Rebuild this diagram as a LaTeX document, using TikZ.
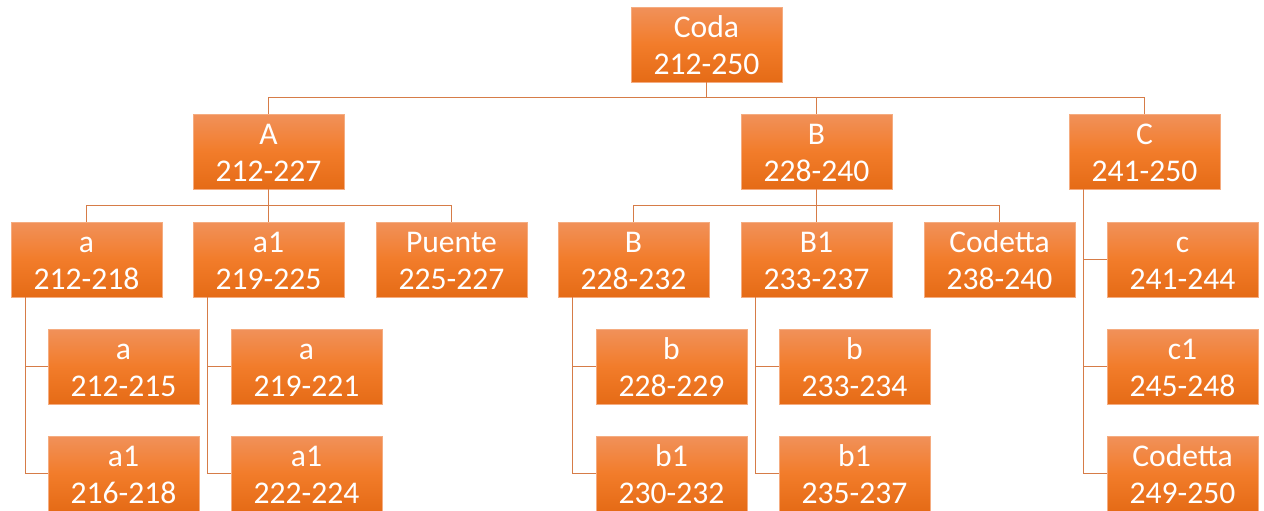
\documentclass[tikz,border=0pt]{standalone}
\usepackage{fontspec}
\setmainfont{Carlito}
\definecolor{boxtop}{RGB}{241,145,90}
\definecolor{boxmid}{RGB}{242,124,42}
\definecolor{boxbot}{RGB}{229,107,22}
\definecolor{linkc}{RGB}{214,124,72}
\definecolor{boxedge}{RGB}{245,172,128}
\newcommand\Lt{\rule{0pt}{13pt}}
\newcommand\Lb{\rule[-1.8pt]{0pt}{1.8pt}}
\begin{document}
\begin{tikzpicture}[x=0.5pt,y=-0.5pt,
 box/.style={rectangle, minimum width=75.5pt, minimum height=37.5pt, inner sep=0pt,
   top color=boxtop, bottom color=boxbot, middle color=boxmid,
   draw=boxedge, line width=0.3pt, text=white, align=center,
   font=\fontsize{15.8}{18.4}\selectfont},
 link/.style={draw=linkc, line width=0.75pt}]
\useasboundingbox (0,0) rectangle (1264,510);
% level 0
\node[box] (coda) at (706.5,44.5) {\Lt Coda\\212-250\Lb};
% level 1
\node[box] (A) at (268.5,151.5) {\Lt A\\212-227\Lb};
\node[box] (B) at (816.5,151.5) {\Lt B\\228-240\Lb};
\node[box] (C) at (1144.5,151.5) {\Lt C\\241-250\Lb};
% level 2
\node[box] (a) at (86.5,259.5) {\Lt a\\212-218\Lb};
\node[box] (aone) at (268.5,259.5) {\Lt a1\\219-225\Lb};
\node[box] (puente) at (451.5,259.5) {\Lt Puente\\225-227\Lb};
\node[box] (Bb) at (633.5,259.5) {\Lt B\\228-232\Lb};
\node[box] (Bone) at (816.5,259.5) {\Lt B1\\233-237\Lb};
\node[box] (codetta) at (999.5,259.5) {\Lt Codetta\\238-240\Lb};
\node[box] (c) at (1182.5,259.5) {\Lt c\\241-244\Lb};
% level 3
\node[box] (aa) at (123.5,366.5) {\Lt a\\212-215\Lb};
\node[box] (aaone) at (123.5,473.5) {\Lt a1\\216-218\Lb};
\node[box] (aonea) at (306.5,366.5) {\Lt a\\219-221\Lb};
\node[box] (aoneb) at (306.5,473.5) {\Lt a1\\222-224\Lb};
\node[box] (bb) at (671.5,366.5) {\Lt b\\228-229\Lb};
\node[box] (bbone) at (671.5,473.5) {\Lt b1\\230-232\Lb};
\node[box] (bonea) at (854.5,366.5) {\Lt b\\233-234\Lb};
\node[box] (boneb) at (854.5,473.5) {\Lt b1\\235-237\Lb};
\node[box] (cone) at (1182.5,366.5) {\Lt c1\\245-248\Lb};
\node[box] (ccodetta) at (1182.5,473.5) {\Lt Codetta\\249-250\Lb};
% connectors level 0 -> 1
\draw[link] (A.north) -- ++(0,-16) -| (coda.south);
\draw[link] (B.north) -- ++(0,-16) -| (coda.south);
\draw[link] (C.north) -- ++(0,-16) -| (coda.south);
% level 1 -> 2
\draw[link] (a.north) -- ++(0,-16) -| (A.south);
\draw[link] (aone.north) -- ++(0,-16) -| (A.south);
\draw[link] (puente.north) -- ++(0,-16) -| (A.south);
\draw[link] (Bb.north) -- ++(0,-16) -| (B.south);
\draw[link] (Bone.north) -- ++(0,-16) -| (B.south);
\draw[link] (codetta.north) -- ++(0,-16) -| (B.south);
% C children (vertical list)
\draw[link] ([xshift=7.5pt]C.south west) |- (c.west);
\draw[link] ([xshift=7.5pt]C.south west) |- (cone.west);
\draw[link] ([xshift=7.5pt]C.south west) |- (ccodetta.west);
% level 2 -> 3
\draw[link] ([xshift=7.5pt]a.south west) |- (aa.west);
\draw[link] ([xshift=7.5pt]a.south west) |- (aaone.west);
\draw[link] ([xshift=7.5pt]aone.south west) |- (aonea.west);
\draw[link] ([xshift=7.5pt]aone.south west) |- (aoneb.west);
\draw[link] ([xshift=7.5pt]Bb.south west) |- (bb.west);
\draw[link] ([xshift=7.5pt]Bb.south west) |- (bbone.west);
\draw[link] ([xshift=7.5pt]Bone.south west) |- (bonea.west);
\draw[link] ([xshift=7.5pt]Bone.south west) |- (boneb.west);
\end{tikzpicture}
\end{document}
